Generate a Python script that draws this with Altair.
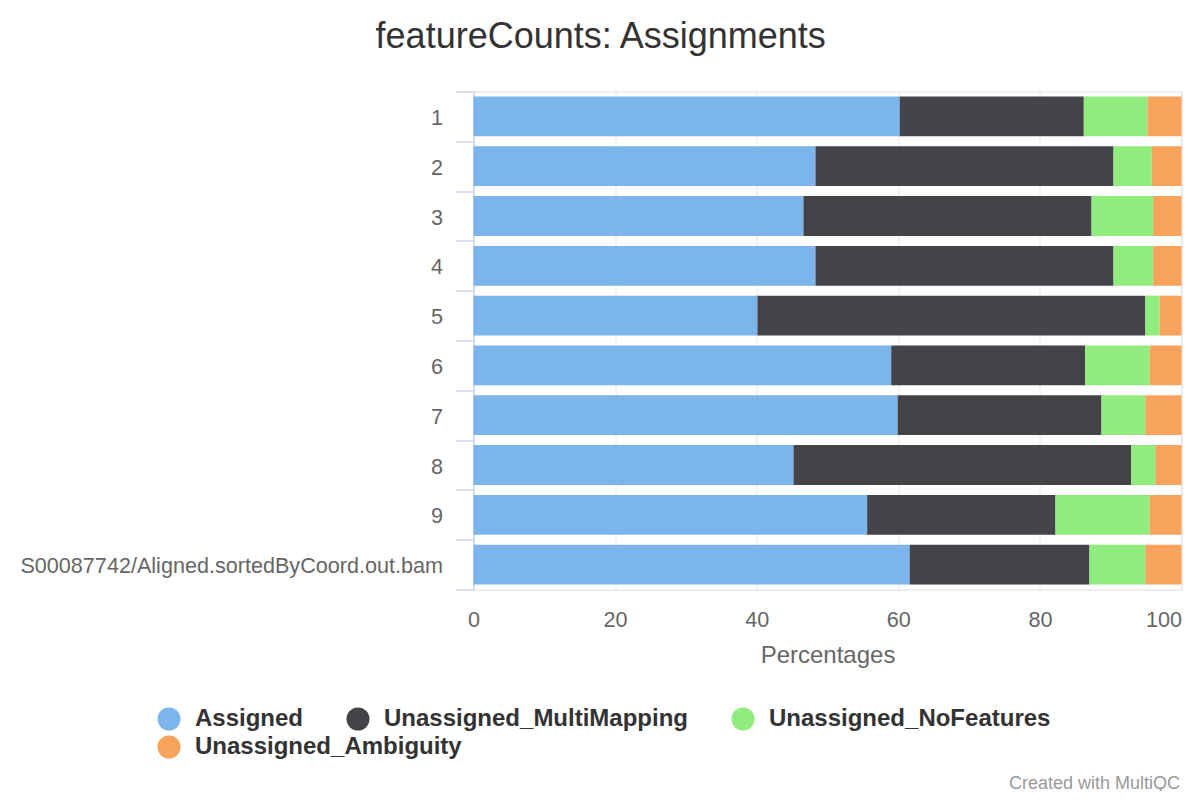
import altair as alt
import pandas as pd

samples = ["1", "2", "3", "4", "5", "6", "7", "8", "9",
           "S00087742/Aligned.sortedByCoord.out.bam"]
series = ["Assigned", "Unassigned_MultiMapping", "Unassigned_NoFeatures", "Unassigned_Ambiguity"]
colors = ["#7cb5ec", "#434348", "#90ed7d", "#f7a35c"]

assigned = [60.2, 48.3, 46.6, 48.3, 40.1, 59.0, 59.9, 45.2, 55.6, 61.6]
multimapping = [26.0, 42.1, 40.7, 42.1, 54.8, 27.4, 28.8, 47.7, 26.6, 25.4]
nofeatures = [9.0, 5.4, 8.7, 5.6, 2.0, 9.1, 6.2, 3.4, 13.3, 7.9]
ambiguity = [4.8, 4.2, 4.0, 4.0, 3.1, 4.5, 5.1, 3.7, 4.5, 5.1]

x_ticks = [0, 20, 40, 60, 80, 100]

rows = []
for i, s in enumerate(samples):
    vals = [assigned[i], multimapping[i], nofeatures[i], ambiguity[i]]
    tot = sum(vals)
    for k, (name, v) in enumerate(zip(series, vals)):
        rows.append({"sample": s, "series": name, "order": k, "pct": v / tot * 100})
df = pd.DataFrame(rows)

W, H = 708, 498
FONT = "Liberation Sans"

legend_common = dict(title=None, orient="none", direction="horizontal", padding=0,
                     columnPadding=42, symbolType="circle", symbolSize=530,
                     symbolStrokeWidth=0, symbolOpacity=1, labelOffset=14,
                     labelFontSize=24, labelFontWeight="bold", labelColor="#333333",
                     labelFont=FONT, labelLimit=500)

y_enc = alt.Y("sample:N", sort=samples, title=None,
              scale=alt.Scale(paddingInner=0, paddingOuter=0),
              axis=alt.Axis(tickBand="extent", ticks=True, tickSize=18, tickColor="#ccd6eb",
                            tickWidth=1.5, domain=True, domainColor="#ccd6eb", domainWidth=1.5,
                            grid=False, labelPadding=13, labelFontSize=21.6, labelColor="#666666",
                            labelFont=FONT, labelLimit=600, labelOffset=2))
x_enc = alt.X("pct:Q", stack="zero", title="Percentages",
              scale=alt.Scale(domain=[0, 100], nice=False),
              axis=alt.Axis(values=x_ticks, grid=True, gridColor="#e6e6e6", gridWidth=1,
                            domain=False, ticks=False, tickSize=0, labelPadding=20,
                            labelFontSize=21.6, labelColor="#666666", labelFont=FONT,
                            labelAlign={"condition": {"test": "datum.value === 100", "value": "right"},
                                        "value": "center"},
                            titleFontSize=24, titleColor="#666666", titleFontWeight="normal",
                            titleFont=FONT, titlePadding=12))

bars = alt.Chart(df).mark_bar(height={"band": 0.8}).encode(
    y=y_enc,
    x=x_enc,
    color=alt.Color("series:N", scale=alt.Scale(domain=series, range=colors),
                    legend=alt.Legend(values=series[:3], legendX=-316.5, legendY=615.5,
                                      **legend_common)),
    order=alt.Order("order:Q", sort="ascending"),
)

# second legend row (last series) via an invisible layer
amb = alt.Chart(df).transform_filter(
    alt.datum.series == series[3]
).mark_point(opacity=0, filled=True).encode(
    y=alt.Y("sample:N", sort=samples),
    x=alt.X("pct:Q", stack=None),
    fill=alt.Fill("series:N", scale=alt.Scale(domain=series[3:], range=colors[3:]),
                  legend=alt.Legend(legendX=-316.5, legendY=643.5, **legend_common)),
)

credit_df = pd.DataFrame({"t": ["Created with MultiQC"]})
credits = alt.Chart(credit_df).mark_text(
    align="right", baseline="alphabetic", fontSize=18, color="#999999", font=FONT
).encode(text="t:N", x=alt.value(W - 1.5), y=alt.value(697))

chart = alt.layer(bars, amb, credits).resolve_scale(fill="independent").properties(
    width=W, height=H,
    autosize=alt.AutoSizeParams(type="none"),
    padding={"left": 465.5, "top": 83.5, "right": 10, "bottom": 201.5},
    title=alt.TitleParams("featureCounts: Assignments", fontSize=36, fontWeight="normal",
                          color="#333333", font=FONT, anchor="middle", frame="bounds", offset=24.5),
).configure_view(stroke=None).configure(font=FONT)

chart.save("out.html", embed_options={"renderer": "svg", "actions": False})
